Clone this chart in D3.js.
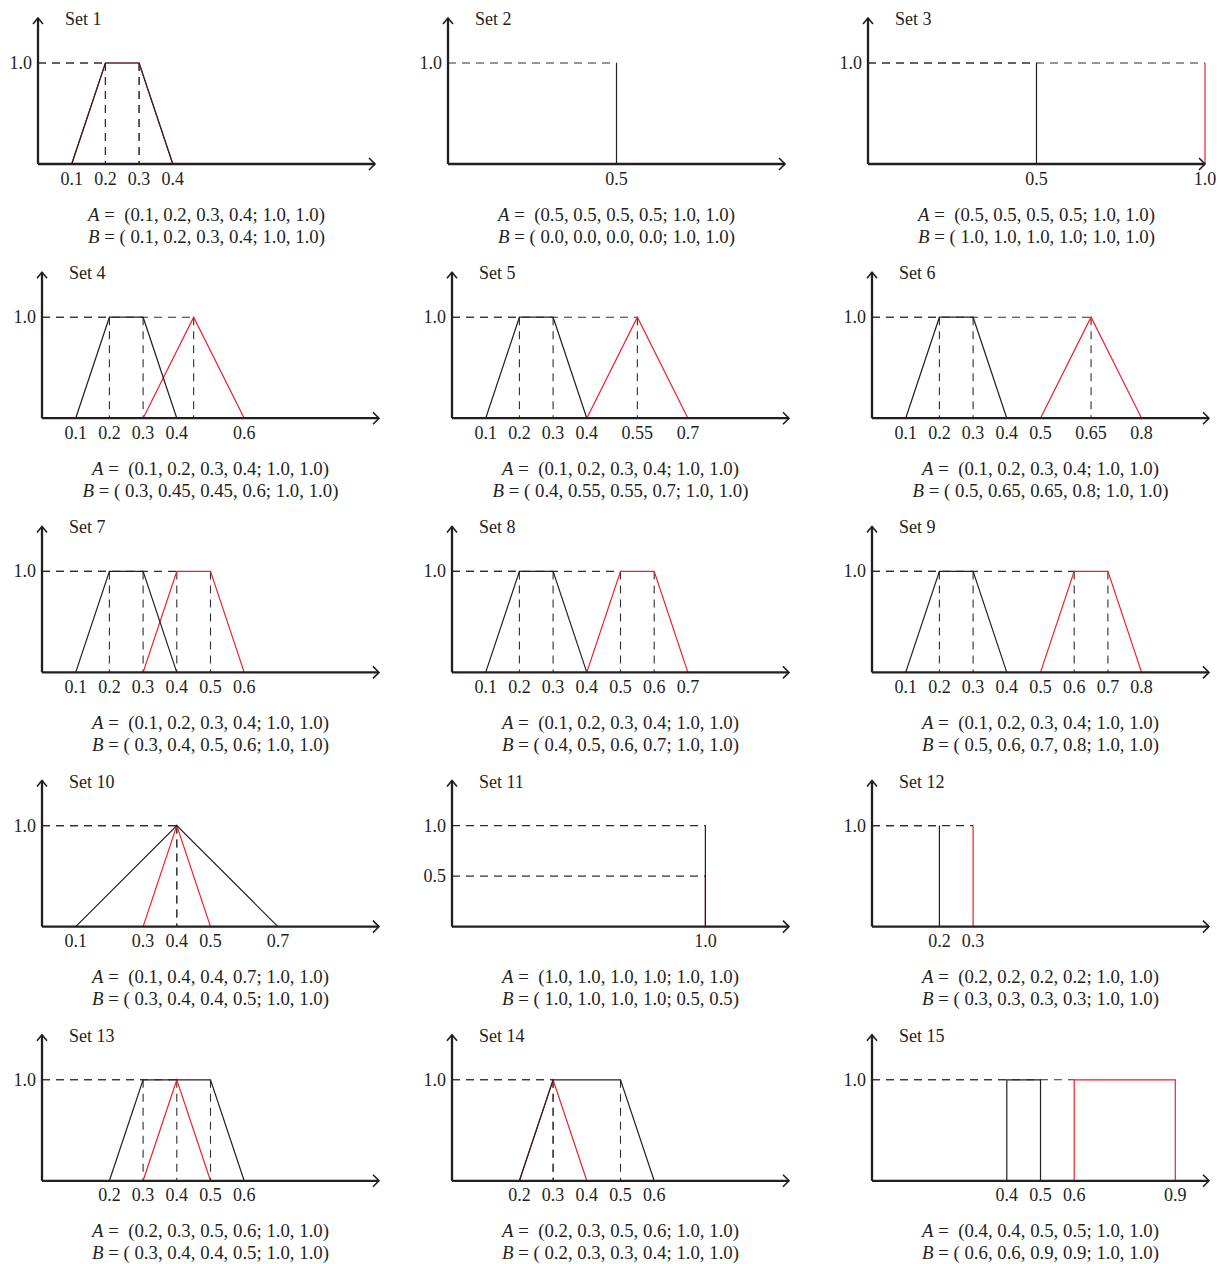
<!DOCTYPE html>
<html>
<head>
<meta charset="utf-8">
<script src="https://cdn.jsdelivr.net/npm/d3@7"></script>
<style>
  body { margin: 0; background: #fff; }
  text { font-family: "Liberation Serif", "Times New Roman", serif; fill: #231f20; white-space: pre; }
</style>
</head>
<body>
<svg id="chart" width="1220" height="1264"></svg>
<script>
// each fuzzy number: a, b, c, d; heights h1, h2
const setNames = ['Set 1', 'Set 2', 'Set 3', 'Set 4', 'Set 5', 'Set 6', 'Set 7', 'Set 8',
    'Set 9', 'Set 10', 'Set 11', 'Set 12', 'Set 13', 'Set 14', 'Set 15'];

const setA = [
    [0.1, 0.2, 0.3, 0.4, 1.0, 1.0],
    [0.5, 0.5, 0.5, 0.5, 1.0, 1.0],
    [0.5, 0.5, 0.5, 0.5, 1.0, 1.0],
    [0.1, 0.2, 0.3, 0.4, 1.0, 1.0],
    [0.1, 0.2, 0.3, 0.4, 1.0, 1.0],
    [0.1, 0.2, 0.3, 0.4, 1.0, 1.0],
    [0.1, 0.2, 0.3, 0.4, 1.0, 1.0],
    [0.1, 0.2, 0.3, 0.4, 1.0, 1.0],
    [0.1, 0.2, 0.3, 0.4, 1.0, 1.0],
    [0.1, 0.4, 0.4, 0.7, 1.0, 1.0],
    [1.0, 1.0, 1.0, 1.0, 1.0, 1.0],
    [0.2, 0.2, 0.2, 0.2, 1.0, 1.0],
    [0.2, 0.3, 0.5, 0.6, 1.0, 1.0],
    [0.2, 0.3, 0.5, 0.6, 1.0, 1.0],
    [0.4, 0.4, 0.5, 0.5, 1.0, 1.0]
];

const setB = [
    [0.1, 0.2, 0.3, 0.4, 1.0, 1.0],
    [0.0, 0.0, 0.0, 0.0, 1.0, 1.0],
    [1.0, 1.0, 1.0, 1.0, 1.0, 1.0],
    [0.3, 0.45, 0.45, 0.6, 1.0, 1.0],
    [0.4, 0.55, 0.55, 0.7, 1.0, 1.0],
    [0.5, 0.65, 0.65, 0.8, 1.0, 1.0],
    [0.3, 0.4, 0.5, 0.6, 1.0, 1.0],
    [0.4, 0.5, 0.6, 0.7, 1.0, 1.0],
    [0.5, 0.6, 0.7, 0.8, 1.0, 1.0],
    [0.3, 0.4, 0.4, 0.5, 1.0, 1.0],
    [1.0, 1.0, 1.0, 1.0, 0.5, 0.5],
    [0.3, 0.3, 0.3, 0.3, 1.0, 1.0],
    [0.3, 0.4, 0.4, 0.5, 1.0, 1.0],
    [0.2, 0.3, 0.3, 0.4, 1.0, 1.0],
    [0.6, 0.6, 0.9, 0.9, 1.0, 1.0]
];

// right end of each x axis (Set 11 is drawn on a wider range)
const xAxisMax = [1, 1, 1, 1, 1, 1, 1, 1, 1, 1, 1.33, 1, 1, 1, 1];

const xTickLabels = [
    [0.1, 0.2, 0.3, 0.4],
    [0.5],
    [0.5, 1.0],
    [0.1, 0.2, 0.3, 0.4, 0.6],
    [0.1, 0.2, 0.3, 0.4, 0.55, 0.7],
    [0.1, 0.2, 0.3, 0.4, 0.5, 0.65, 0.8],
    [0.1, 0.2, 0.3, 0.4, 0.5, 0.6],
    [0.1, 0.2, 0.3, 0.4, 0.5, 0.6, 0.7],
    [0.1, 0.2, 0.3, 0.4, 0.5, 0.6, 0.7, 0.8],
    [0.1, 0.3, 0.4, 0.5, 0.7],
    [1.0],
    [0.2, 0.3],
    [0.2, 0.3, 0.4, 0.5, 0.6],
    [0.2, 0.3, 0.4, 0.5, 0.6],
    [0.4, 0.5, 0.6, 0.9]
];

const yTickLabels = [
    [1.0], [1.0], [1.0], [1.0], [1.0], [1.0], [1.0], [1.0],
    [1.0], [1.0], [0.5, 1.0], [1.0], [1.0], [1.0], [1.0]
];

const ink = '#231f20';
const red = '#ea2229';

const svg = d3.select('#chart');

const axisLen = 337;
const y = d3.scaleLinear().domain([0, 1]).range([0, -101]);

// "1.0" not "1", "0.45" stays
const fmt = v => {
    const s = String(v);
    return s.includes('.') ? s : s + '.0';
};

const colX = [42, 452, 872];
const rowY = d3.range(5).map(i => 164 + i * 254.2);

setNames.forEach((name, i) => {
    const row = Math.floor(i / 3), col = i % 3;
    const ox = colX[col] - (row === 0 ? 4 : 0);
    const oy = rowY[row];
    const x = d3.scaleLinear().domain([0, xAxisMax[i]]).range([0, axisLen]);
    const g = svg.append('g').attr('transform', `translate(${ox},${oy})`);
    const nums = [setA[i], setB[i]];

    // dashed guides
    const guides = g.append('g')
        .attr('stroke', '#2e2e2e')
        .attr('stroke-width', 1.1)
        .attr('stroke-dasharray', '8,6')
        .attr('fill', 'none');

    nums.forEach(f => {
        const [a, b, c, d, h1, h2] = f;
        if (b > 0) {
            guides.append('line')
                .attr('x1', x(0)).attr('x2', x(b))
                .attr('y1', y(h1)).attr('y2', y(h1));
        }
        if (b > a) {
            guides.append('line')
                .attr('x1', x(b)).attr('x2', x(b))
                .attr('y1', y(h1)).attr('y2', y(0));
        }
        if (c < d && c !== b) {
            guides.append('line')
                .attr('x1', x(c)).attr('x2', x(c))
                .attr('y1', y(h2)).attr('y2', y(0));
        }
    });

    // fuzzy numbers: B (red) underneath, A (black) on top
    const line = d3.line().x(p => x(p[0])).y(p => y(p[1]));
    g.selectAll('path.fuzzy')
        .data([nums[1], nums[0]])
        .enter().append('path')
        .attr('class', 'fuzzy')
        .attr('d', ([a, b, c, d, h1, h2]) => line([[a, 0], [b, h1], [c, h2], [d, 0]]))
        .attr('fill', 'none')
        .attr('stroke', (d, k) => k === 0 ? red : ink)
        .attr('stroke-width', 1.2);

    // axes with open arrowheads
    const axes = g.append('g')
        .attr('stroke', ink)
        .attr('stroke-width', 2.3)
        .attr('fill', 'none');
    const xEnd = axisLen, yEnd = -146;
    axes.append('path').attr('d', `M0,0H${xEnd}`);
    axes.append('path').attr('d', `M0,0V${yEnd}`);
    axes.append('path')
        .attr('stroke-width', 1.6)
        .attr('d', `M${xEnd - 6},-6L${xEnd},0L${xEnd - 6},6`);
    axes.append('path')
        .attr('stroke-width', 1.6)
        .attr('d', `M-5,${yEnd + 6}L0,${yEnd}L5,${yEnd + 6}`);

    // tick labels
    g.selectAll('text.xt')
        .data(xTickLabels[i])
        .enter().append('text')
        .attr('class', 'xt')
        .attr('x', d => x(d))
        .attr('y', 20.5)
        .attr('text-anchor', 'middle')
        .attr('font-size', 18)
        .text(d => fmt(d));

    g.selectAll('text.yt')
        .data(yTickLabels[i])
        .enter().append('text')
        .attr('class', 'yt')
        .attr('x', -6)
        .attr('y', d => y(d) + 6)
        .attr('text-anchor', 'end')
        .attr('font-size', 18)
        .text(d => fmt(d));

    g.append('text')
        .attr('x', 27)
        .attr('y', -139)
        .attr('font-size', 18)
        .text(name);

    // parameter lines under the panel
    const vals = f => `${f.slice(0, 4).map(fmt).join(', ')}; ${fmt(f[4])}, ${fmt(f[5])})`;
    const midX = axisLen / 2;

    const lineA = g.append('text')
        .attr('x', midX)
        .attr('y', 56.5)
        .attr('text-anchor', 'middle')
        .attr('font-size', 18.8);
    lineA.append('tspan').attr('font-style', 'italic').text('A');
    lineA.append('tspan').text(' =  (' + vals(setA[i]));

    const lineB = g.append('text')
        .attr('x', midX)
        .attr('y', 78.5)
        .attr('text-anchor', 'middle')
        .attr('font-size', 18.8);
    lineB.append('tspan').attr('font-style', 'italic').text('B');
    lineB.append('tspan').text(' = ( ' + vals(setB[i]));
});
</script>
</body>
</html>
